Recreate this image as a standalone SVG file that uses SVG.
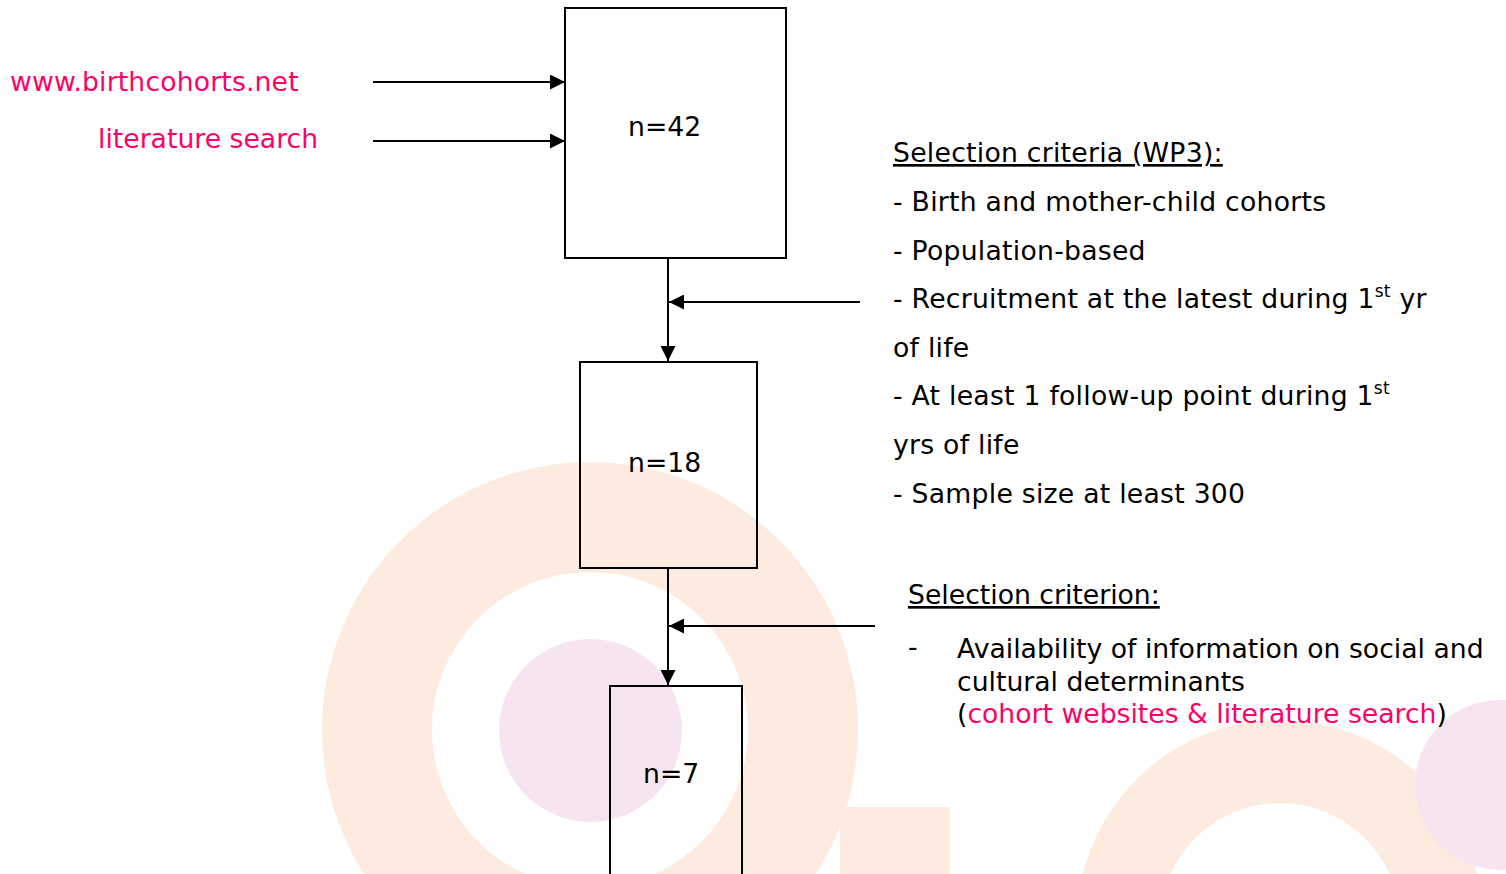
<svg xmlns="http://www.w3.org/2000/svg" width="1506" height="874" viewBox="0 0 1506 874">
<style>
  text { font-family: "DejaVu Sans", Verdana, "Liberation Sans", sans-serif; font-size: 26.67px; fill: #000; }
  .pink { fill: #FF0066; }
  .box { fill: none; stroke: #000; stroke-width: 2; }
  .conn { stroke: #000; stroke-width: 2; fill: none; }
  .sup { font-size: 17px; }
  .ls { letter-spacing: 0.25px; }
</style>
<defs>
  <marker id="arr" viewBox="0 0 10 10" refX="10" refY="5" markerWidth="15" markerHeight="15" markerUnits="userSpaceOnUse" orient="auto">
    <path d="M0,0 L10,5 L0,10 Z" fill="#000"/>
  </marker>
</defs>
<rect width="1506" height="874" fill="#fff"/>
<g id="background">
  <circle cx="590" cy="730" r="213" fill="none" stroke="#FDEBDF" stroke-width="110"/>
  <rect x="840" y="807" width="110" height="70" fill="#FDEBDF"/>
  <circle cx="590.5" cy="730.5" r="91.5" fill="#F6E5F0"/>
  <circle cx="1280" cy="923" r="161.5" fill="none" stroke="#FDEBDF" stroke-width="83"/>
  <circle cx="1500" cy="785" r="85" fill="#F6E5F0"/>
</g>
<g id="sources">
  <text class="pink" x="10" y="91" style="letter-spacing:0.15px">www.birthcohorts.net</text>
  <text class="pink" x="98" y="148">literature search</text>
</g>
<g id="node-n42">
  <rect class="box" x="565" y="8" width="221" height="250" style="fill:#fff"/>
  <text x="628" y="136">n=42</text>
</g>
<g id="node-n18">
  <rect class="box" x="580" y="362" width="177" height="206"/>
  <text x="628" y="472">n=18</text>
</g>
<g id="node-n7">
  <rect class="box" x="610" y="686" width="132" height="200"/>
  <text x="643" y="783">n=7</text>
</g>
<g id="criteria1" class="ls">
  <text class="ls" x="893" y="162" text-decoration="underline">Selection criteria (WP3):</text>
  <text class="ls" x="893" y="211">- Birth and mother-child cohorts</text>
  <text class="ls" x="893" y="260">- Population-based</text>
  <text class="ls" x="893" y="308">- Recruitment at the latest during 1<tspan class="sup" dy="-11">st</tspan><tspan dy="11"> yr</tspan></text>
  <text class="ls" x="893" y="357">of life</text>
  <text class="ls" x="893" y="405">- At least 1 follow-up point during 1<tspan class="sup" dy="-11">st</tspan></text>
  <text class="ls" x="893" y="454">yrs of life</text>
  <text class="ls" x="893" y="503">- Sample size at least 300</text>
</g>
<g id="criteria2">
  <text x="908" y="604" text-decoration="underline">Selection criterion:</text>
  <text x="908" y="656">-</text>
  <text x="957" y="658">Availability of information on social and</text>
  <text x="957" y="691">cultural determinants</text>
  <text x="957" y="723">(<tspan class="pink">cohort websites &amp; literature search</tspan>)</text>
</g>
<g id="connectors">
  <line class="conn" x1="373" y1="82" x2="565" y2="82" marker-end="url(#arr)"/>
  <line class="conn" x1="373" y1="141" x2="565" y2="141" marker-end="url(#arr)"/>
  <line class="conn" x1="668" y1="258" x2="668" y2="361" marker-end="url(#arr)"/>
  <line class="conn" x1="860" y1="302" x2="669" y2="302" marker-end="url(#arr)"/>
  <line class="conn" x1="668" y1="568" x2="668" y2="685" marker-end="url(#arr)"/>
  <line class="conn" x1="875" y1="626" x2="669" y2="626" marker-end="url(#arr)"/>
</g>
</svg>
